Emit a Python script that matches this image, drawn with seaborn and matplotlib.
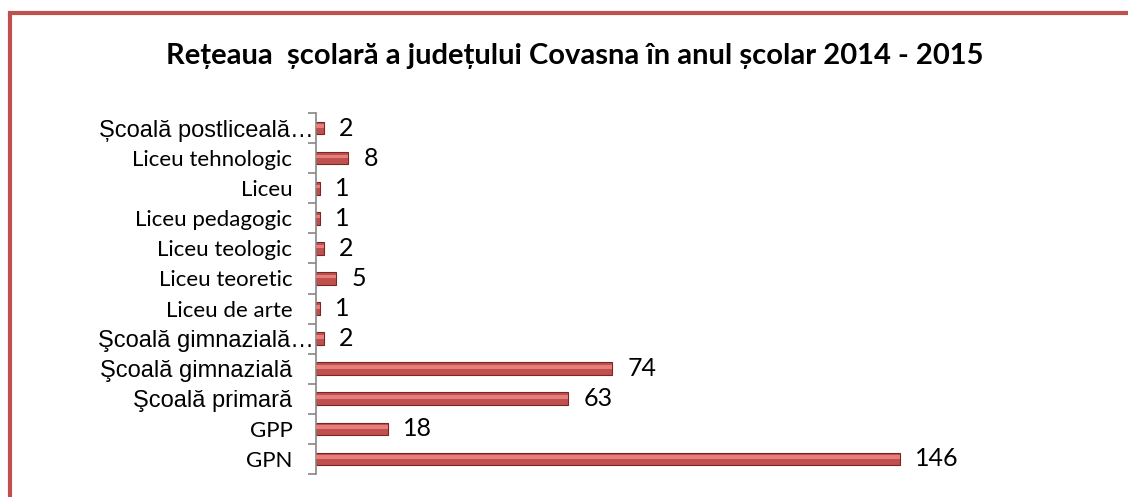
import matplotlib
matplotlib.use("Agg")
import matplotlib.pyplot as plt
import matplotlib.patches as mpatches
from matplotlib.transforms import ScaledTranslation
import seaborn as sns
import pandas as pd
import numpy as np

categories = ["Școală postliceală…", "Liceu tehnologic", "Liceu", "Liceu pedagogic",
              "Liceu teologic", "Liceu teoretic", "Liceu de arte", "Şcoală gimnazială…",
              "Şcoală gimnazială", "Şcoală primară", "GPP", "GPN"]
values = [2, 8, 1, 1, 2, 5, 1, 2, 74, 63, 18, 146]
arial_labels = ["Școală postliceală…", "Şcoală gimnazială…", "Şcoală gimnazială", "Şcoală primară"]

title = "Rețeaua  școlară a județului Covasna în anul școlar 2014 - 2015"

df = pd.DataFrame({"cat": categories, "val": values})

sns.set_style("white")
plt.rcParams["font.family"] = ["Lato", "DejaVu Sans"]
plt.rcParams["text.color"] = "black"

fig = plt.figure(figsize=(11.28, 4.97), dpi=100)
ax = fig.add_axes([316 / 1128, 23 / 497, 780 / 1128, 361 / 497])

sns.barplot(data=df, y="cat", x="val", orient="h", ax=ax, width=0.42,
            color="#C0504D", edgecolor="#7A2624", linewidth=0.8, saturation=1)

# lighter highlight on top of each bar, looks a bit like the bevel
ax.barh(np.arange(len(values)) - 0.06, values, height=0.12, color="#E47F7D",
        linewidth=0, zorder=3)

ax.set_xlim(0, 195)
ax.set_ylim(len(values) - 0.5, -0.5)
ax.set_xlabel("")
ax.set_ylabel("")
ax.set_xticks([])

for s in ["top", "right", "bottom"]:
    ax.spines[s].set_visible(False)
ax.spines["left"].set_color("#868686")
ax.spines["left"].set_linewidth(1.2)

ax.set_yticks(np.arange(len(values) + 1) - 0.5, minor=True)
ax.tick_params(axis="y", which="minor", length=6, color="#868686", width=1.2, left=True)
ax.tick_params(axis="y", which="major", length=0, pad=17)

for lbl in ax.get_yticklabels():
    txt = lbl.get_text()
    if txt in arial_labels:
        lbl.set_fontfamily("Liberation Sans")
        lbl.set_fontsize(17)
    else:
        lbl.set_fontsize(16)
    if txt.endswith("…"):
        # truncated labels run up to the axis line
        lbl.set_transform(lbl.get_transform() + ScaledTranslation(0.21, 0, fig.dpi_scale_trans))
    lbl.set_color("#000000")

for i, v in enumerate(values):
    ax.annotate(str(v), xy=(v, i), xytext=(11, 0), textcoords="offset points",
                va="center", ha="left", fontsize=18, color="#000000")

fig.text(575 / 1128, 1 - 56 / 497, title, ha="center", va="center",
         fontsize=21, fontweight="bold", color="#000000")

border = mpatches.Rectangle((10 / 1128, -0.5), 2, 0.5 + 1 - 13 / 497,
                            transform=fig.transFigure, fill=False,
                            edgecolor="#C0504D", linewidth=3, clip_on=False)
fig.patches.append(border)

fig.savefig("out.png", dpi=100)
